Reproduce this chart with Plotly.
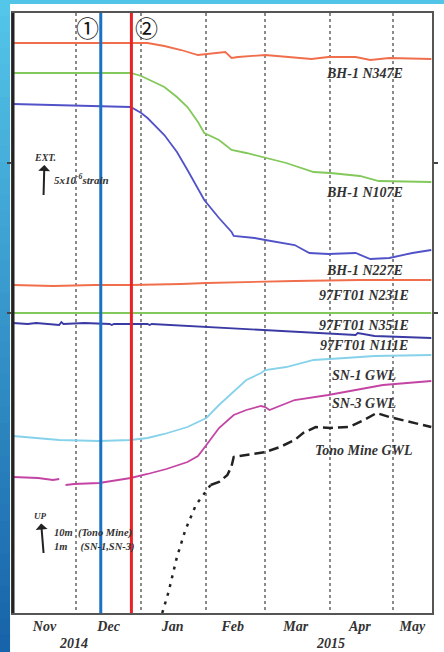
import plotly.graph_objects as go

# ---------------- data (relative offset units) ----------------
bh1_n347e_dates = ["2014-11-01", "2014-12-27", "2015-01-04", "2015-01-12", "2015-01-20", "2015-01-28",
                   "2015-02-07", "2015-02-10", "2015-02-13", "2015-02-16", "2015-03-01", "2015-03-11",
                   "2015-03-23", "2015-03-31", "2015-04-13", "2015-04-20", "2015-04-29", "2015-05-19"]
bh1_n347e = [570, 570, 570, 567, 563, 558, 560, 561, 555, 556, 558, 556, 554, 556, 556, 553, 555, 554]

bh1_n107e_dates = ["2014-11-01", "2014-12-27", "2015-01-01", "2015-01-04", "2015-01-12", "2015-01-18",
                   "2015-01-23", "2015-01-28", "2015-01-31", "2015-02-07", "2015-02-13", "2015-02-20",
                   "2015-03-01", "2015-03-11", "2015-03-24", "2015-04-01", "2015-04-15", "2015-04-24",
                   "2015-05-19"]
bh1_n107e = [540, 540, 537, 534, 526, 516, 506, 491, 480, 473, 463, 460, 455, 450, 441, 440, 437, 432, 431]

bh1_n227e_dates = ["2014-11-01", "2014-12-27", "2015-01-01", "2015-01-04", "2015-01-12", "2015-01-18",
                   "2015-01-23", "2015-01-28", "2015-01-31", "2015-02-07", "2015-02-13", "2015-02-14",
                   "2015-02-24", "2015-03-01", "2015-03-15", "2015-03-22", "2015-03-31", "2015-04-13",
                   "2015-04-20", "2015-04-29", "2015-05-10", "2015-05-19"]
bh1_n227e = [509, 506, 500, 495, 478, 461, 443, 425, 413, 395, 381, 377, 375, 373, 368, 360, 359, 360,
             354, 355, 360, 363]

ft_n231e_dates = ["2014-11-01", "2014-11-20", "2014-12-10", "2014-12-27", "2015-01-20", "2015-02-01",
                  "2015-03-15", "2015-04-15", "2015-05-19"]
ft_n231e = [328, 327, 328, 328, 329, 330, 332, 333, 333]

ft_n351e_dates = ["2014-11-01", "2014-12-15", "2015-01-20", "2015-03-01", "2015-04-10", "2015-05-19"]
ft_n351e = [300, 300, 300, 300, 300, 300]

ft_n111e_dates = ["2014-11-01", "2014-11-08", "2014-11-12", "2014-11-20", "2014-11-23", "2014-11-24",
                  "2014-11-25", "2014-12-05", "2014-12-17", "2014-12-18", "2014-12-19", "2015-01-04",
                  "2015-01-05", "2015-01-06", "2015-02-01", "2015-03-01", "2015-03-31", "2015-04-13",
                  "2015-04-14", "2015-04-22", "2015-05-19"]
ft_n111e = [290, 289, 290, 289, 288, 291, 289, 290, 289, 288, 289, 289, 288, 289, 286, 283, 279, 278,
            280, 277, 275]

sn1_dates = ["2014-11-01", "2014-11-13", "2014-11-23", "2014-12-12", "2014-12-27", "2015-01-04",
             "2015-01-12", "2015-01-23", "2015-02-01", "2015-02-07", "2015-02-13", "2015-02-20",
             "2015-02-27", "2015-03-01", "2015-03-11", "2015-03-24", "2015-04-08", "2015-04-22",
             "2015-05-19"]
sn1 = [177, 175, 173, 172, 173, 175, 179, 186, 195, 208, 220, 233, 240, 243, 246, 253, 255, 257, 258]

sn3_dates = ["2014-11-01", "2014-11-13", "2014-11-20", "2014-11-23", "2014-11-25", "2014-11-26",
             "2014-11-30", "2014-12-12", "2014-12-27", "2015-01-04", "2015-01-13", "2015-01-23",
             "2015-01-28", "2015-02-01", "2015-02-07", "2015-02-14", "2015-02-20", "2015-02-27",
             "2015-03-01", "2015-03-03", "2015-03-15", "2015-03-31", "2015-04-13", "2015-04-26",
             "2015-05-19"]
sn3 = [136, 135, 133, 134, None, 128, 129, 130, 135, 139, 144, 151, 157, 168, 185, 198, 203, 207,
       206, 203, 213, 218, 223, 228, 232]

tono_dot_dates = ["2015-01-11", "2015-01-14", "2015-01-18", "2015-01-22", "2015-01-27", "2015-02-03"]
tono_dot = [0, 21, 56, 83, 108, 128]

tono_dash_dates = ["2015-02-03", "2015-02-07", "2015-02-11", "2015-02-13", "2015-02-14", "2015-02-21",
                   "2015-03-01", "2015-03-08", "2015-03-15", "2015-03-19", "2015-03-25", "2015-04-01",
                   "2015-04-10", "2015-04-17", "2015-04-23", "2015-04-29", "2015-05-05", "2015-05-15",
                   "2015-05-19"]
tono_dash = [128, 131, 138, 147, 156, 158, 161, 166, 173, 180, 186, 185, 186, 193, 200, 196, 193, 188, 186]

month_tick_dates = ["2014-11-16", "2014-12-16 12:00", "2015-01-16", "2015-02-13 12:00",
                    "2015-03-15 12:00", "2015-04-15", "2015-05-10"]
month_tick_labels = ["Nov", "Dec", "Jan", "Feb", "Mar", "Apr", "May"]
year_label_dates = ["2014-11-30", "2015-04-01"]
year_labels = ["2014", "2015"]

event_dates = ["2014-12-12 18:00", "2014-12-27 08:00"]
event_labels = ["①", "②"]
event_label_dates = ["2014-12-06 10:00", "2015-01-03 12:00"]

label_date = "2015-04-17"
series_labels = ["BH-1 N347E", "BH-1 N107E", "BH-1 N227E", "97FT01 N231E", "97FT01 N351E",
                 "97FT01 N111E", "SN-1 GWL", "SN-3 GWL", "Tono Mine GWL"]
series_label_y = [540, 421, 343, 318, 288, 268, 238, 210, 163]

# ---------------- figure ----------------
ORANGE = "#f06e4c"
GREEN = "#82c85a"
INDIGO = "#5252c8"
NAVY = "#3a3aa4"
CYAN = "#86d2ea"
MAGENTA = "#c444a4"

fig = go.Figure()


def line(x, y, color, width=1.8, dash=None):
    fig.add_trace(go.Scatter(x=x, y=y, mode="lines", line=dict(color=color, width=width, dash=dash),
                             connectgaps=False, showlegend=False, hoverinfo="skip"))


line(bh1_n347e_dates, bh1_n347e, ORANGE)
line(bh1_n107e_dates, bh1_n107e, GREEN)
line(bh1_n227e_dates, bh1_n227e, INDIGO)
line(ft_n231e_dates, ft_n231e, ORANGE)
line(ft_n351e_dates, ft_n351e, GREEN)
line(ft_n111e_dates, ft_n111e, NAVY)
line(sn1_dates, sn1, CYAN)
line(sn3_dates, sn3, MAGENTA)
line(tono_dot_dates, tono_dot, "#222222", width=2.5, dash="3px,6px")
line(tono_dash_dates, tono_dash, "#222222", width=2.5, dash="10px,5px")

serif = "Liberation Serif"
ann = []
for txt, yv in zip(series_labels, series_label_y):
    ann.append(dict(x=label_date, y=yv, xref="x", yref="y", text=f"<b><i>{txt}</i></b>",
                    showarrow=False, font=dict(family=serif, size=14, color="#333333")))
for txt, xd in zip(year_labels, year_label_dates):
    ann.append(dict(x=xd, y=-0.05, xref="x", yref="paper", yanchor="middle",
                    text=f"<b><i>{txt}</i></b>",
                    showarrow=False, font=dict(family=serif, size=14, color="#333333")))
for txt, xd in zip(event_labels, event_label_dates):
    ann.append(dict(x=xd, y=0.976, xref="x", yref="paper", yanchor="middle", text=txt, showarrow=False,
                    font=dict(family="Noto Sans CJK JP", size=23, color="#111111")))


def px2paper(px, py):
    return (px - 13) / 425.0, (613 - py) / 600.0


# EXT. scale marker (arrow head next to the text)
bx, by = px2paper(44, 195)
ann.append(dict(x=bx, y=by, xref="paper", yref="paper", text="<b><i>EXT.</i></b>", showarrow=True,
                ax=1, ay=-38, arrowhead=2, arrowside="start", arrowsize=1, arrowwidth=2,
                arrowcolor="#222222", standoff=0, startstandoff=1,
                font=dict(family=serif, size=10, color="#333333")))
tx, ty = px2paper(53, 179)
ann.append(dict(x=tx, y=ty, xref="paper", yref="paper", xanchor="left", yanchor="middle",
                text="<b><i>5x10<sup>-6</sup>strain</i></b>", showarrow=False,
                font=dict(family=serif, size=11, color="#333333")))

# UP scale marker
bx, by = px2paper(44, 553)
ann.append(dict(x=bx, y=by, xref="paper", yref="paper", text="<b><i>UP</i></b>", showarrow=True,
                ax=-3, ay=-37, arrowhead=2, arrowside="start", arrowsize=1, arrowwidth=2,
                arrowcolor="#222222", standoff=0, startstandoff=1,
                font=dict(family=serif, size=9, color="#333333")))
tx, ty = px2paper(53, 533)
ann.append(dict(x=tx, y=ty, xref="paper", yref="paper", xanchor="left", yanchor="middle",
                text="<b><i>10m&nbsp;&nbsp;(Tono Mine)</i></b>", showarrow=False,
                font=dict(family=serif, size=10.5, color="#333333")))
tx, ty = px2paper(53, 547)
ann.append(dict(x=tx, y=ty, xref="paper", yref="paper", xanchor="left", yanchor="middle",
                text="<b><i>1m&nbsp;&nbsp;&nbsp;&nbsp;&nbsp;(SN-1,SN-3)</i></b>", showarrow=False,
                font=dict(family=serif, size=10.5, color="#333333")))

shapes = []
# event lines
shapes.append(dict(type="line", xref="x", yref="paper", x0=event_dates[0], x1=event_dates[0], y0=0, y1=1,
                   line=dict(color="#1a72c4", width=3)))
shapes.append(dict(type="line", xref="x", yref="paper", x0=event_dates[1], x1=event_dates[1], y0=0, y1=1,
                   line=dict(color="#ea2228", width=3)))
# thick left axis line
shapes.append(dict(type="line", xref="paper", yref="paper", x0=0, x1=0, y0=0, y1=1,
                   line=dict(color="#222222", width=3)))

# decorative slide frame (top band + left gradient band)
shapes.append(dict(type="rect", xref="paper", yref="paper", x0=-13 / 425 - 0.01, x1=444 / 425 + 0.1,
                   y0=(613 - 4) / 600, y1=(613 + 1) / 600 + 0.05, line=dict(width=0), fillcolor="#52c4e8",
                   layer="below"))
n = 40
top_c = (84, 198, 234)
bot_c = (24, 100, 170)
for i in range(n):
    t = i / (n - 1)
    c = tuple(int(top_c[k] + (bot_c[k] - top_c[k]) * t) for k in range(3))
    y_top = 652 * i / n
    y_bot = 652 * (i + 1) / n
    shapes.append(dict(type="rect", xref="paper", yref="paper", x0=-13 / 425 - 0.01, x1=-3 / 425,
                       y0=(613 - y_bot) / 600 - 0.001, y1=(613 - y_top) / 600 + 0.001,
                       line=dict(width=0), fillcolor=f"rgb{c}", layer="below"))

fig.update_layout(
    width=444, height=652,
    margin=dict(l=13, r=6, t=13, b=39),
    paper_bgcolor="white", plot_bgcolor="white",
    showlegend=False,
    annotations=ann, shapes=shapes,
    xaxis=dict(type="date", range=["2014-11-01", "2015-05-19 08:00"],
               tickmode="array", tickvals=month_tick_dates,
               ticktext=[f"<b><i>{m}</i></b>" for m in month_tick_labels],
               tickfont=dict(family=serif, size=14, color="#333333"),
               ticks="", showgrid=False, zeroline=False,
               showline=True, linecolor="#555555", linewidth=2, mirror=True,
               ticklabelstandoff=-1,
               minor=dict(tick0="2014-12-01", dtick="M1", showgrid=True, gridcolor="#8a8a8a",
                          gridwidth=1.5, griddash="dot", ticks="")),
    yaxis=dict(range=[0, 600], showticklabels=False, showgrid=False, zeroline=False,
               tickmode="array", tickvals=[300, 450], ticks="outside", ticklen=4,
               tickcolor="#444444", tickwidth=1.5,
               showline=True, linecolor="#555555", linewidth=2, mirror="ticks"),
)

fig.write_html("out.html", config={"displayModeBar": False},
               post_script="document.body.style.margin='0px';document.body.style.overflow='hidden';")
